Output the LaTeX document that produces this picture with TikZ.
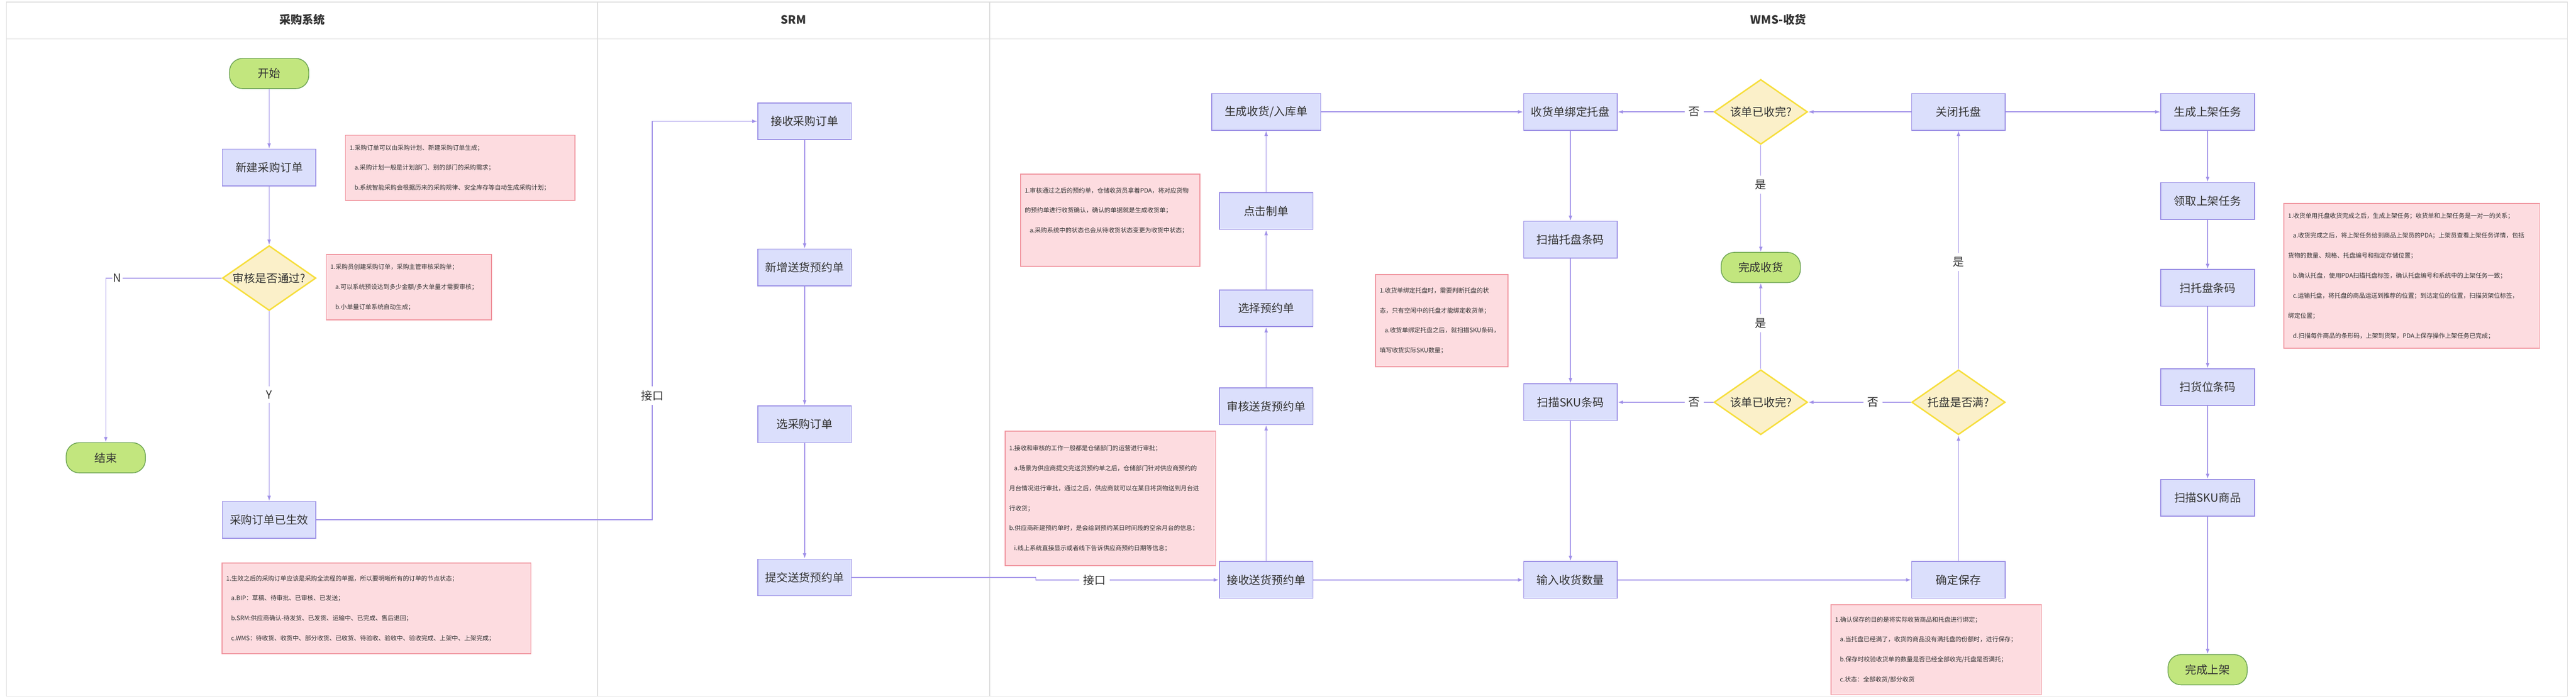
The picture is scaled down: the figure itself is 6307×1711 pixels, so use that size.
\documentclass[tikz,border=0pt]{standalone}
\usepackage{fontspec}
\setmainfont{Noto Sans CJK SC}
\usetikzlibrary{arrows.meta,shapes.geometric}
\definecolor{procfill}{RGB}{219,223,252}
\definecolor{procline}{RGB}{152,140,228}
\definecolor{termfill}{RGB}{194,230,126}
\definecolor{termline}{RGB}{110,165,85}
\definecolor{decfill}{RGB}{251,240,201}
\definecolor{decline}{RGB}{246,222,60}
\definecolor{notefill}{RGB}{253,220,224}
\definecolor{noteline}{RGB}{240,148,158}
\definecolor{flow}{RGB}{160,144,232}
\definecolor{lane}{RGB}{221,221,221}
\definecolor{ink}{RGB}{51,51,51}
\tikzstyle{procbox}=[rectangle,fill=procfill,draw=procline,line width=2pt,minimum width=229pt,minimum height=90pt,inner sep=0pt,text=ink,font=\fontsize{27.5}{30}\selectfont]
\tikzstyle{termbox}=[rectangle,rounded corners=32pt,fill=termfill,draw=termline,line width=2pt,minimum width=194pt,minimum height=74pt,inner sep=0pt,text=ink,font=\fontsize{27.5}{30}\selectfont]
\tikzstyle{decbox}=[diamond,shape aspect=1.45,fill=decfill,draw=decline,line width=3.5pt,minimum width=229pt,minimum height=159pt,inner sep=0pt,text=ink,font=\fontsize{27.5}{30}\selectfont]
\tikzstyle{notebox}=[rectangle,anchor=north west,fill=notefill,draw=noteline,line width=2pt,inner sep=10pt,align=left,text=ink,font=\fontsize{15}{49}\selectfont]
\tikzstyle{headbox}=[text=ink,font=\fontsize{28}{32}\selectfont\bfseries]
\tikzstyle{flowedge}=[draw=flow,line width=2pt,-{Latex[length=13pt,width=9pt]}]
\tikzstyle{flowlabel}=[fill=white,inner sep=10pt,text=ink,font=\fontsize{27.5}{30}\selectfont]

\begin{document}
\begin{tikzpicture}[x=1pt,y=-1pt]

    \useasboundingbox (0,0) rectangle (6307,1711);

    % lanes
    \draw[draw=lane,line width=2pt] (16,5) rectangle (6286,1705);
    \draw[draw=lane,line width=2pt] (16,95) -- (6286,95) (1463,5) -- (1463,1705) (2423,5) -- (2423,1705);
    \node[headbox] (hbuy) at (740,48) {采购系统};
    \node[headbox] (hsrm) at (1943,48) {SRM};
    \node[headbox] (hwms) at (4354,48) {WMS-收货};

    \foreach \pos/ \name/ \lbl in {{(659,410)/neworder/新建采购订单}, {(659,1273)/effective/采购订单已生效},
        {(1970,297)/recvpo/接收采购订单}, {(1970,655)/newappt/新增送货预约单}, {(1970,1039)/selpo/选采购订单}, {(1970,1414)/submit/提交送货预约单},
        {(3100,517)/clickmake/点击制单}, {(3100,755)/selappt/选择预约单}, {(3100,995)/auditappt/审核送货预约单}, {(3100,1420)/recvappt/接收送货预约单},
        {(3845,274)/bindpallet/收货单绑定托盘}, {(3845,587)/scanpallet/扫描托盘条码}, {(3845,985)/scansku/扫描SKU条码}, {(3845,1420)/inputqty/输入收货数量},
        {(4795,274)/closepallet/关闭托盘}, {(4795,1420)/confirm/确定保存},
        {(5405,274)/genput/生成上架任务}, {(5405,492)/takeput/领取上架任务}, {(5405,705)/scanpal/扫托盘条码}, {(5405,948)/scanloc/扫货位条码}, {(5405,1219)/scangoods/扫描SKU商品}}
        \node[procbox] (\name) at \pos {\lbl};
    \node[procbox,minimum width=267pt] (genrecv) at (3100,274) {生成收货/入库单};

    \foreach \pos/ \name/ \lbl in {{(659,180)/start/开始}, {(259,1121)/over/结束}, {(4311,655)/finishrecv/完成收货}, {(5405,1640)/finishput/完成上架}}
        \node[termbox] (\name) at \pos {\lbl};

    \foreach \pos/ \name/ \lbl in {{(659,681)/audit/审核是否通过?}, {(4311,274)/doneone/该单已收完?}, {(4311,985)/donetwo/该单已收完?}, {(4795,985)/full/托盘是否满?}}
        \node[decbox] (\name) at \pos {\lbl};

    \coordinate (ifbuy) at (1597,1273);
    \coordinate (ifsrm) at (2536,1414);

    % Connect steps
    \foreach \source/ \dest in {start/neworder, neworder/audit, recvpo/newappt, newappt/selpo, selpo/submit,
        recvappt/auditappt, auditappt/selappt, selappt/clickmake, clickmake/genrecv, genrecv/bindpallet,
        bindpallet/scanpallet, scanpallet/scansku, scansku/inputqty, recvappt/inputqty, inputqty/confirm, confirm/full,
        closepallet/doneone, closepallet/genput, genput/takeput, takeput/scanpal, scanpal/scanloc, scanloc/scangoods, scangoods/finishput}
        \path[flowedge] (\source) -- (\dest);

    % labelled branches
    \path[flowedge] (audit) -| node[flowlabel,pos=0.45,inner sep=3pt] {N} (over);
    \path[flowedge] (audit) -- node[flowlabel,pos=0.44] {Y} (effective);
    \path[flowedge] (effective) -- (ifbuy) |- node[flowlabel,pos=0.156] {接口} (recvpo);
    \path[flowedge] (submit) -- (ifsrm) |- node[flowlabel,pos=0.66] {接口} (recvappt);
    \path[flowedge] (full) -- node[flowlabel,pos=0.45] {是} (closepallet);
    \path[flowedge] (full) -- node[flowlabel,pos=0.37] {否} (donetwo);
    \path[flowedge] (donetwo) -- node[flowlabel,pos=0.2] {否} (scansku);
    \path[flowedge] (donetwo) -- node[flowlabel,pos=0.53] {是} (finishrecv);
    \path[flowedge] (doneone) -- node[flowlabel,pos=0.2] {否} (bindpallet);
    \path[flowedge] (doneone) -- node[flowlabel,pos=0.37] {是} (finishrecv);

    % notes
    \node[notebox,text width=542pt,minimum height=160pt] (noteplan) at (845,330)
        {1.采购订单可以由采购计划、新建采购订单生成；\\
         \hspace*{12pt}a.采购计划一般是计划部门、别的部门的采购需求；\\
         \hspace*{12pt}b.系统智能采购会根据历来的采购规律、安全库存等自动生成采购计划；};
    \node[notebox,text width=384pt,minimum height=160pt] (noteaudit) at (798,622)
        {1.采购员创建采购订单，采购主管审核采购单；\\
         \hspace*{12pt}a.可以系统预设达到多少金额/多大单量才需要审核；\\
         \hspace*{12pt}b.小单量订单系统自动生成；};
    \node[notebox,text width=736pt,minimum height=222pt] (noteeff) at (543,1378)
        {1.生效之后的采购订单应该是采购全流程的单据，所以要明晰所有的订单的节点状态；\\
         \hspace*{12pt}a.BIP：草稿、待审批、已审核、已发送；\\
         \hspace*{12pt}b.SRM:供应商确认-待发货、已发货、运输中、已完成、售后退回；\\
         \hspace*{12pt}c.WMS：待收货、收货中、部分收货、已收货、待验收、验收中、验收完成、上架中、上架完成；};
    \node[notebox,text width=419pt,minimum height=226pt] (noterecv) at (2498,425)
        {1.审核通过之后的预约单，仓储收货员拿着PDA，将对应货物\\
         的预约单进行收货确认，确认的单据就是生成收货单；\\
         \hspace*{12pt}a.采购系统中的状态也会从待收货状态变更为收货中状态；\\ \mbox{}};
    \node[notebox,text width=495pt,minimum height=329pt] (noteappt) at (2460,1055)
        {1.接收和审核的工作一般都是仓储部门的运营进行审批；\\
         \hspace*{12pt}a.场景为供应商提交完送货预约单之后，仓储部门针对供应商预约的\\
         月台情况进行审批，通过之后，供应商就可以在某日将货物送到月台进\\
         行收货；\\
         b.供应商新建预约单时，是会给到预约某日时间段的空余月台的信息；\\
         \hspace*{12pt}i.线上系统直接显示或者线下告诉供应商预约日期等信息；};
    \node[notebox,text width=304pt,minimum height=226pt] (notepallet) at (3367,671)
        {1.收货单绑定托盘时，需要判断托盘的状\\
         态，只有空闲中的托盘才能绑定收货单；\\
         \hspace*{12pt}a.收货单绑定托盘之后，就扫描SKU条码，\\
         填写收货实际SKU数量；};
    \node[notebox,text width=495pt,minimum height=220pt] (noteconfirm) at (4482,1480)
        {1.确认保存的目的是将实际收货商品和托盘进行绑定；\\
         \hspace*{12pt}a.当托盘已经满了，收货的商品没有满托盘的份额时，进行保存；\\
         \hspace*{12pt}b.保存时校验收货单的数量是否已经全部收完/托盘是否满托；\\
         \hspace*{12pt}c.状态：全部收货/部分收货};
    \node[notebox,text width=606pt,minimum height=355pt] (noteput) at (5591,497)
        {1.收货单用托盘收货完成之后，生成上架任务；收货单和上架任务是一对一的关系；\\
         \hspace*{12pt}a.收货完成之后，将上架任务给到商品上架员的PDA；上架员查看上架任务详情，包括\\
         货物的数量、规格、托盘编号和指定存储位置；\\
         \hspace*{12pt}b.确认托盘，使用PDA扫描托盘标签，确认托盘编号和系统中的上架任务一致；\\
         \hspace*{12pt}c.运输托盘，将托盘的商品运送到推荐的位置；到达定位的位置，扫描货架位标签，\\
         绑定位置；\\
         \hspace*{12pt}d.扫描每件商品的条形码，上架到货架，PDA上保存操作上架任务已完成；};

\end{tikzpicture}
\end{document}
